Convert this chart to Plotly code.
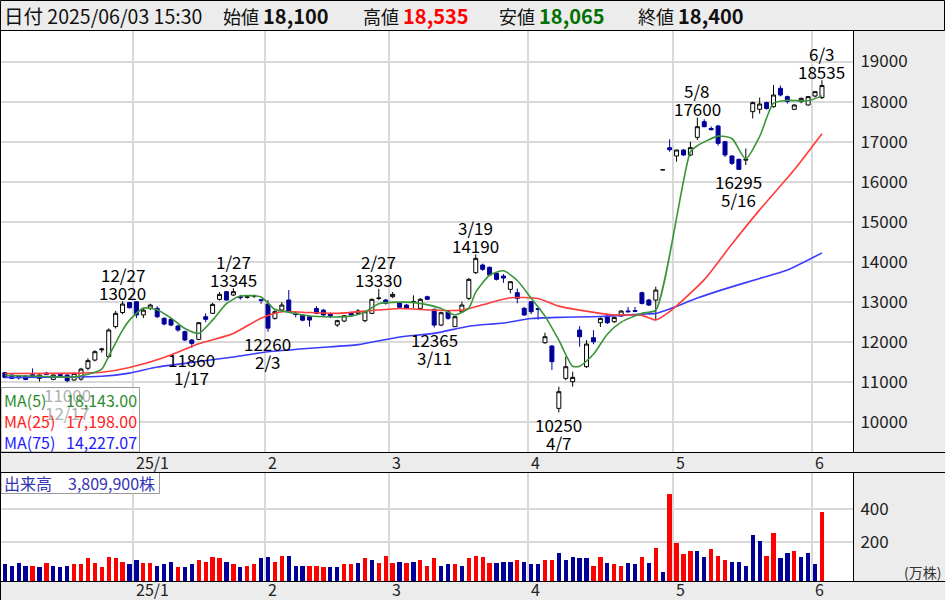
import plotly.graph_objects as go

W, H = 945, 600

# ---------------- data ----------------
year_month_days = [
    (2024, 12, [4, 5, 6, 9, 10, 11, 12, 13, 16, 17, 18, 19, 20, 23, 24, 25, 26, 27, 30]),
    (2025, 1, [6, 7, 8, 9, 10, 14, 15, 16, 17, 20, 21, 22, 23, 24, 27, 28, 29, 30, 31]),
    (2025, 2, [3, 4, 5, 6, 7, 10, 12, 13, 14, 17, 18, 19, 20, 21, 25, 26, 27, 28]),
    (2025, 3, [3, 4, 5, 6, 7, 10, 11, 12, 13, 14, 17, 18, 19, 21, 24, 25, 26, 27, 28, 31]),
    (2025, 4, [1, 2, 3, 4, 7, 8, 9, 10, 11, 14, 15, 16, 17, 18, 21, 22, 23, 24, 25, 28, 30]),
    (2025, 5, [1, 2, 7, 8, 9, 12, 13, 14, 15, 16, 19, 20, 21, 22, 23, 26, 27, 28, 29, 30]),
    (2025, 6, [2, 3]),
]
month_labels = ["25/1", "2", "3", "4", "5", "6"]

opens = [11240, 11181, 11150, 11156, 11190, 11098, 11230, 11073, 11200, 11181,
         11057, 11080, 11350, 11555, 11810, 11640, 12390, 12740, 12990, 13010,
         12680, 12844, 12844, 12595, 12570, 12404, 12262, 12055, 12071, 12636,
         12720, 13069, 13260, 13177, 13140, 13120, 13150, 13060, 12950, 12595,
         12803, 13052, 12700, 12680, 12636, 12840, 12800, 12700, 12430, 12528,
         12736, 12720, 12537, 12720, 13090, 13052, 13135, 12985, 12927, 13000,
         12845, 13135, 12820, 12428, 12761, 12387, 12761, 13093, 13734, 13925,
         13867, 13717, 13650, 13318, 13235, 12844, 13010, 12840, 11988, 11905,
         10350, 11098, 11015, 12303, 11389, 12112, 12486, 12652, 12511, 12652,
         12780, 12790, 13234, 13052, 13050, 16300, 16850, 16644, 16793, 16669,
         17109, 17500, 17330, 17392, 17001, 16644, 16560, 16540, 17750, 17808,
         17975, 17874, 18331, 18124, 17808, 18000, 17916, 18140, 18100]
highs = [11260, 11200, 11170, 11170, 11347, 11200, 11260, 11200, 11230, 11200,
         11240, 11360, 11600, 11800, 11860, 12345, 12780, 13020, 13000, 13015,
         12850, 12960, 12900, 12620, 12600, 12430, 12290, 12080, 12500, 12720,
         12980, 13250, 13280, 13345, 13180, 13160, 13190, 13080, 13050, 12800,
         13000, 13301, 12760, 12700, 12660, 12900, 12830, 12740, 12560, 12680,
         12760, 12830, 12780, 13090, 13330, 13080, 13250, 13000, 12950, 13170,
         13100, 13160, 12840, 12760, 12790, 12650, 13010, 13600, 14190, 13960,
         13890, 13740, 13700, 13520, 13340, 12880, 13030, 12860, 12237, 11930,
         10890, 11639, 11265, 12400, 12050, 12300, 12620, 12680, 12640, 12800,
         12880, 12880, 13260, 13080, 13385, 16300, 17060, 16800, 16820, 17000,
         17600, 17560, 17380, 17420, 17020, 16660, 16580, 16830, 18000, 18100,
         18000, 18414, 18400, 18150, 17930, 18100, 18140, 18260, 18535]
lows = [11100, 11080, 11070, 11050, 11120, 11020, 11180, 11050, 11140, 11000,
        11040, 11040, 11300, 11520, 11740, 11600, 12340, 12700, 12840, 12600,
        12600, 12800, 12600, 12420, 12400, 12260, 12030, 11860, 12050, 12500,
        12700, 13040, 13040, 13150, 13060, 13090, 13100, 12960, 12260, 12560,
        12780, 12740, 12620, 12520, 12387, 12700, 12650, 12600, 12380, 12500,
        12650, 12700, 12500, 12700, 13050, 12940, 13100, 12850, 12820, 12850,
        12820, 13050, 12365, 12400, 12560, 12380, 12740, 13050, 13700, 13780,
        13650, 13540, 13480, 13220, 12970, 12660, 12700, 12560, 11960, 11306,
        10250, 11050, 10890, 11888, 11360, 11950, 12380, 12450, 12480, 12640,
        12740, 12750, 12940, 12900, 12553, 16300, 16750, 16502, 16650, 16640,
        17043, 17360, 17280, 16900, 16620, 16420, 16295, 16420, 17580, 17700,
        17800, 17850, 18130, 17950, 17790, 17960, 17900, 18100, 18065]
closes = [11123, 11098, 11110, 11073, 11150, 11181, 11200, 11181, 11170, 11040,
          11222, 11330, 11540, 11763, 11830, 12304, 12720, 12952, 12860, 12680,
          12800, 12927, 12636, 12454, 12428, 12304, 12055, 11970, 12487, 12570,
          12944, 13193, 13052, 13260, 13110, 13130, 13150, 13040, 12350, 12761,
          12927, 12761, 12690, 12550, 12553, 12720, 12680, 12650, 12537, 12661,
          12678, 12778, 12761, 13069, 13100, 12970, 13193, 12870, 12845, 13010,
          13069, 13069, 12428, 12736, 12595, 12636, 12927, 13567, 14091, 13817,
          13676, 13567, 13600, 13509, 13093, 12678, 12760, 12820, 12137, 11514,
          10766, 11389, 11123, 12137, 11954, 12012, 12594, 12486, 12619, 12777,
          12760, 12770, 12968, 12927, 13300, 16300, 16800, 16793, 16669, 16852,
          17375, 17375, 17300, 16960, 16669, 16460, 16311, 16560, 17975, 17940,
          17830, 18165, 18165, 18000, 17916, 18082, 18124, 18248, 18400]

# volume (10k shares) and up/down vs previous day
volume = [68, 58, 74, 58, 58, 50, 74, 58, 50, 58,
          68, 68, 104, 74, 50, 110, 104, 84, 68, 94,
          74, 74, 58, 68, 84, 50, 50, 68, 94, 84,
          110, 104, 84, 68, 50, 58, 68, 104, 110, 84,
          120, 120, 58, 58, 58, 58, 50, 50, 50, 68,
          68, 74, 104, 94, 74, 120, 74, 84, 74, 84,
          94, 58, 104, 58, 68, 68, 58, 104, 120, 110,
          74, 74, 84, 84, 94, 84, 68, 68, 94, 94,
          138, 94, 110, 104, 104, 58, 110, 74, 68, 58,
          74, 68, 110, 74, 164, 20, 488, 194, 128, 148,
          148, 110, 158, 120, 94, 84, 84, 58, 244, 210,
          120, 254, 104, 138, 148, 110, 138, 68, 381]
vol_dir = list("ddddudu" "dddu" "uuuuuuu" "dduu" "dddudd" "uuuudu" "duuddu" "udd"
               "duuudduudu" "duuudud" "uuuddudu" "uuu" "dddudddu" "uddd" "ddu"
               "uduuddu" "dudu" "uuuddu" "uudddddu" "uddudddu" "uuu")

ma5_i = [0, 5, 10, 12, 14, 15, 17, 18, 20, 22, 24, 26, 28, 30, 32, 34, 37, 39, 42, 43, 46,
         50, 52, 54, 57, 60, 63, 65, 67, 68, 70, 72, 74, 76, 78, 80, 82, 83, 85, 87, 89,
         92, 94, 99, 100, 103, 105, 107, 109, 111, 113, 116, 118]
ma5_v = [11170, 11150, 11130, 11200, 11330, 11650, 12300, 12550, 12850, 12810, 12600,
         12340, 12220, 12550, 12960, 13150, 13130, 12820, 12720, 12680, 12636, 12650,
         12750, 12960, 13000, 12969, 12840, 12680, 12850, 13250, 13670, 13780, 13540,
         13100, 12650, 12050, 11400, 11400, 11700, 12200, 12500, 12720, 12800, 16750,
         16900, 17140, 17080, 16570, 17130, 17960, 18030, 18020, 18143]
ma25_i = [0, 11, 14, 18, 23, 28, 33, 37, 40, 44, 48, 53, 57, 62, 66, 70, 73, 77, 80, 83,
          88, 92, 94, 96, 101, 105, 109, 114, 118]
ma25_v = [11220, 11230, 11250, 11370, 11620, 11960, 12220, 12600, 12760, 12740, 12720,
          12790, 12840, 12800, 12800, 12980, 13110, 13090, 12900, 12800, 12680, 12670,
          12553, 12760, 13560, 14450, 15300, 16300, 17198]
ma75_i = [0, 8, 14, 18, 22, 28, 33, 38, 45, 51, 57, 62, 67, 72, 76, 80, 86, 92, 94, 96,
          100, 104, 109, 113, 118]
ma75_v = [11120, 11130, 11150, 11230, 11380, 11520, 11630, 11760, 11860, 11940, 12130,
          12220, 12400, 12480, 12590, 12620, 12640, 12700, 12720, 12830, 13100, 13330,
          13590, 13800, 14227]
ma_names = ["MA(5)", "MA(25)", "MA(75)"]
ma_last = ["18,143.00", "17,198.00", "14,227.07"]

hl_idx = [9, 17, 27, 33, 38, 54, 62, 68, 80, 100, 106, 118]
hl_kind = ["low", "high", "low", "high", "low", "high", "low", "high", "low", "high", "low", "high"]
hl_val = [11000, 13020, 11860, 13345, 12260, 13330, 12365, 14190, 10250, 17600, 16295, 18535]

header_date = "2025/06/03 15:30"
header_items = [("始値", "18,100"), ("高値", "18,535"), ("安値", "18,065"), ("終値", "18,400")]
volume_text = "出来高　3,809,900株"
price_ticks = [10000, 11000, 12000, 13000, 14000, 15000, 16000, 17000, 18000, 19000]
vol_ticks = [200, 400]

# ---------------- derived ----------------
dates = []
month_first = []
for y, m, days in year_month_days:
    month_first.append(len(dates))
    for d in days:
        dates.append((y, m, d))
n = len(dates)
xs = list(range(n))
bounds = [i - 0.5 for i in month_first[1:]]

FONT = "Noto Sans CJK JP, Noto Sans, sans-serif"
NAVY = "#000099"
GRID = "#d9d9d9"

def px(x):
    return x / W

def py(y):
    return 1 - y / H

XR = [-0.556, 122.48]
YR = [9262, 19761]
VBASE = -32
VR = [VBASE, 622]

fig = go.Figure()

fig.add_trace(go.Candlestick(
    x=xs, open=opens, high=highs, low=lows, close=closes,
    increasing=dict(line=dict(color="black", width=1), fillcolor="white"),
    decreasing=dict(line=dict(color=NAVY, width=1), fillcolor=NAVY),
    whiskerwidth=0, xaxis="x", yaxis="y", hoverinfo="skip"))

for mi, mv, col in [(ma75_i, ma75_v, "#3b3bff"), (ma25_i, ma25_v, "#ff3b3b"), (ma5_i, ma5_v, "#3a953a")]:
    fig.add_trace(go.Scatter(x=mi, y=mv, mode="lines", line=dict(color=col, width=1.6, shape="spline", smoothing=0.6),
                             xaxis="x", yaxis="y", hoverinfo="skip"))

vcols = ["#ff0000" if d == "u" else NAVY for d in vol_dir]
fig.add_trace(go.Bar(x=xs, y=[v - VBASE for v in volume], base=VBASE, marker=dict(color=vcols, line=dict(width=0)),
                     width=0.62, xaxis="x2", yaxis="y2", hoverinfo="skip"))

ann = []
for i, k, v in zip(hl_idx, hl_kind, hl_val):
    y, m, d = dates[i]
    col = "#b0b0b0" if i == 9 else "black"
    if k == "high":
        s1, s2 = 9, 27
    else:
        s1, s2 = -12, -30
    ann.append(dict(x=i, y=v, xref="x", yref="y", text=str(v), showarrow=False, yanchor="middle", yshift=s1,
                    font=dict(size=17, color=col, family=FONT)))
    ann.append(dict(x=i, y=v, xref="x", yref="y", text=f"{m}/{d}", showarrow=False, yanchor="middle", yshift=s2,
                    font=dict(size=17, color=col, family=FONT)))

for b, lab in zip(bounds, month_labels):
    for yy in (462, 589):
        ann.append(dict(x=b, y=py(yy), xref="x", yref="paper", text=lab, showarrow=False, xanchor="left",
                        yanchor="middle", xshift=1, font=dict(size=16, color="#222", family=FONT)))

ma_cols = ["#2e8b2e", "#ff2020", "#2020ff"]
for k, (nm, lv, c) in enumerate(zip(ma_names, ma_last, ma_cols)):
    yy = 400 + k * 20.8
    ann.append(dict(x=px(2), y=py(yy), xref="paper", yref="paper", text=nm, showarrow=False, xanchor="left",
                    yanchor="middle", font=dict(size=16, color=c, family=FONT)))
    ann.append(dict(x=px(139), y=py(yy), xref="paper", yref="paper", text=lv, showarrow=False, xanchor="right",
                    yanchor="middle", font=dict(size=16, color=c, family=FONT)))

ann.append(dict(x=px(2), y=py(482.5), xref="paper", yref="paper", text=volume_text, showarrow=False,
                xanchor="left", yanchor="middle", font=dict(size=16, color="#3434b4", family=FONT)))
ann.append(dict(x=px(943), y=py(572), xref="paper", yref="paper", text="(万株)", showarrow=False,
                xanchor="right", yanchor="middle", font=dict(size=14, color="#333", family=FONT)))

ann.append(dict(x=px(2), y=py(15), xref="paper", yref="paper", text="日付 " + header_date, showarrow=False,
                xanchor="left", yanchor="middle", font=dict(size=19.5, color="#111", family=FONT)))
hx = [221, 361, 497, 636]
hcol = ["#111", "#ff0000", "#007000", "#111"]
for (lab, val), x0, c in zip(header_items, hx, hcol):
    ann.append(dict(x=px(x0), y=py(15), xref="paper", yref="paper",
                    text=f"{lab} <b><span style='color:{c};font-size:20px'>{val}</span></b>", showarrow=False,
                    xanchor="left", yanchor="middle", font=dict(size=18, color="#111", family=FONT)))

shapes = [
    dict(type="rect", xref="paper", yref="paper", x0=px(0.5), x1=px(944.5), y0=py(0.5), y1=py(30.5),
         line=dict(color="black", width=1), fillcolor="rgba(0,0,0,0)", layer="above"),
    dict(type="rect", xref="paper", yref="paper", x0=px(1), x1=px(139.5), y0=py(387.5), y1=py(452),
         line=dict(color="#9a9a9a", width=1), fillcolor="rgba(255,255,255,0.72)", layer="above"),
    dict(type="rect", xref="paper", yref="paper", x0=px(1), x1=px(159.5), y0=py(472.5), y1=py(493.5),
         line=dict(color="#9a9a9a", width=1), fillcolor="white", layer="above"),
]
for y0 in (452.5, 472.5, 581.5):
    shapes.append(dict(type="line", xref="paper", yref="paper", x0=0, x1=1, y0=py(y0), y1=py(y0),
                       line=dict(color="black", width=1), layer="above"))
for ya, yb in ((30, 452.5), (472.5, 581.5)):
    shapes.append(dict(type="line", xref="paper", yref="paper", x0=px(853.5), x1=px(853.5), y0=py(ya), y1=py(yb),
                       line=dict(color="black", width=1), layer="above"))
shapes.append(dict(type="line", xref="paper", yref="paper", x0=px(0.5), x1=px(0.5), y0=py(30), y1=py(600),
                   line=dict(color="black", width=1), layer="above"))

xaxis_common = dict(range=XR, tickvals=bounds, showticklabels=False, showgrid=True, gridcolor=GRID, gridwidth=2,
                    zeroline=False, showline=False, ticks="", domain=[px(1), px(853)], fixedrange=True)
fig.update_layout(
    width=W, height=H, margin=dict(l=0, r=0, t=0, b=0),
    paper_bgcolor="#ececec", plot_bgcolor="white", showlegend=False,
    font=dict(family=FONT, color="#222"), boxgap=0.18,
    xaxis=dict(**xaxis_common, anchor="y", rangeslider=dict(visible=False)),
    xaxis2=dict(**xaxis_common, anchor="y2", matches="x"),
    yaxis=dict(domain=[py(452), py(31)], range=YR, side="right", tickvals=price_ticks, tickformat="d",
               showgrid=True, gridcolor=GRID, gridwidth=2, zeroline=False, ticks="outside", ticklen=3,
               tickcolor="rgba(0,0,0,0)", tickfont=dict(size=17, color="#222", family=FONT), anchor="x",
               fixedrange=True),
    yaxis2=dict(domain=[py(581), py(472)], range=VR, side="right", tickvals=vol_ticks, tickformat="d",
                showgrid=True, gridcolor=GRID, gridwidth=2, zeroline=False, ticks="outside", ticklen=3,
                tickcolor="rgba(0,0,0,0)", tickfont=dict(size=17, color="#222", family=FONT), anchor="x2",
                fixedrange=True),
    annotations=ann, shapes=shapes, bargap=0,
)

fig.write_html("out.html", config={"displayModeBar": False},
               post_script="document.body.style.margin='0';document.body.style.overflow='hidden';")
